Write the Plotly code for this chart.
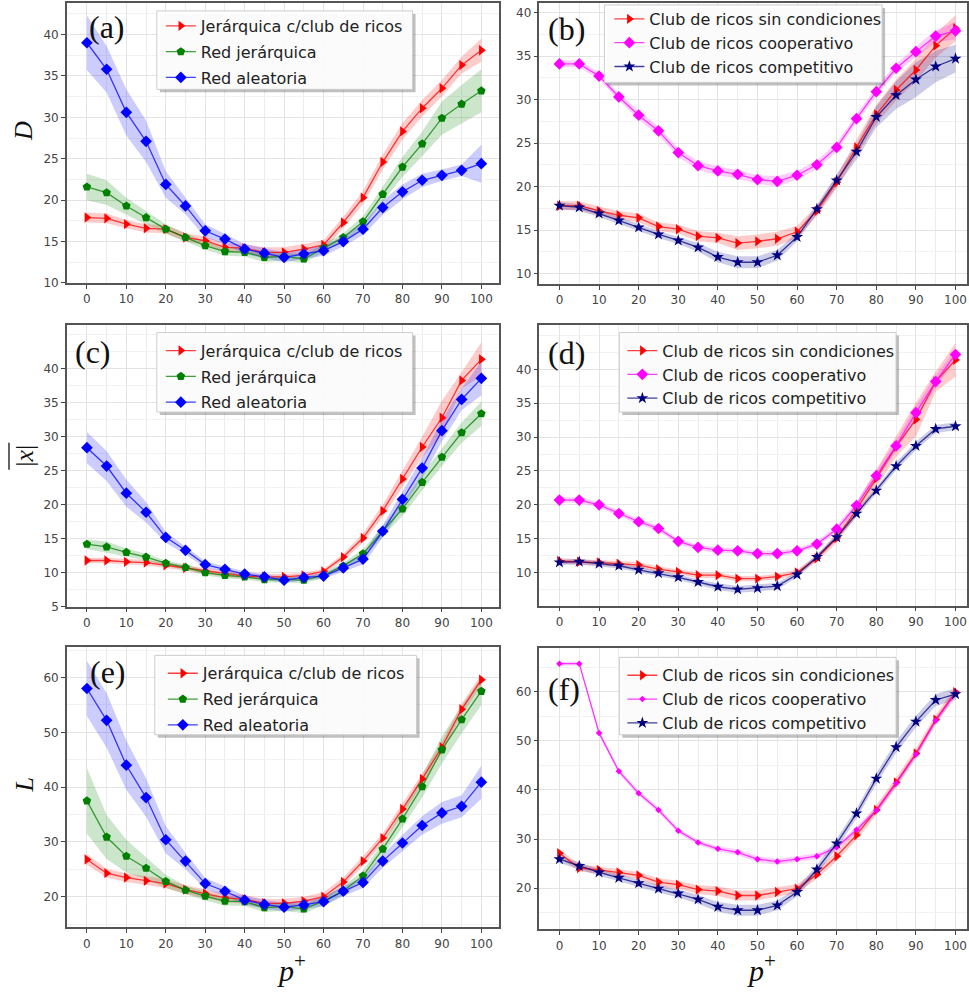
import plotly.graph_objects as go

W, H = 969, 993

p_plus = [0, 5, 10, 15, 20, 25, 30, 35, 40, 45, 50, 55, 60, 65, 70, 75, 80, 85, 90, 95, 100]

# ---------------- panel (a): D ----------------
a_club = [17.9, 17.8, 17.1, 16.6, 16.5, 15.5, 15.1, 14.3, 14.2, 13.7, 13.7, 14.1, 14.6, 17.3, 20.3, 24.6, 28.3, 31.1, 33.5, 36.3, 38.1]
a_club_err = [0.6, 0.6, 0.5, 0.5, 0.5, 0.5, 0.5, 0.5, 0.5, 0.6, 0.6, 0.6, 0.6, 0.7, 0.8, 0.9, 1.0, 1.0, 1.0, 1.0, 1.4]
a_jer = [21.6, 20.9, 19.3, 17.9, 16.5, 15.5, 14.5, 13.8, 13.7, 13.1, 13.2, 12.9, 14.2, 15.5, 17.4, 20.7, 24.0, 26.8, 29.9, 31.6, 33.2]
a_jer_err = [1.6, 1.5, 1.0, 0.8, 0.6, 0.5, 0.5, 0.5, 0.5, 0.6, 0.5, 0.5, 0.5, 0.5, 0.7, 0.9, 1.2, 1.5, 2.0, 2.3, 2.6]
a_ale = [39.0, 35.8, 30.6, 27.1, 21.9, 19.3, 16.3, 15.3, 14.1, 13.6, 13.1, 13.5, 13.9, 15.0, 16.5, 19.1, 21.0, 22.4, 23.0, 23.6, 24.4]
a_ale_err = [3.3, 2.8, 2.8, 2.5, 1.6, 1.0, 0.8, 0.6, 0.6, 0.6, 0.6, 0.6, 0.6, 0.6, 0.7, 0.9, 0.9, 0.8, 0.7, 0.7, 2.3]

# ---------------- panel (b): D ----------------
b_sin = [17.8, 17.8, 17.2, 16.7, 16.4, 15.4, 15.1, 14.3, 14.1, 13.5, 13.7, 14.0, 14.8, 17.2, 20.5, 24.5, 28.3, 31.1, 33.4, 36.2, 38.2]
b_sin_err = [0.5, 0.5, 0.5, 0.5, 0.5, 0.5, 0.5, 0.6, 0.6, 0.8, 0.8, 0.8, 0.7, 0.6, 0.7, 0.9, 1.1, 1.2, 1.3, 1.4, 1.5]
b_coop = [34.1, 34.1, 32.7, 30.3, 28.2, 26.4, 23.9, 22.4, 21.8, 21.4, 20.8, 20.6, 21.3, 22.5, 24.5, 27.8, 30.9, 33.6, 35.5, 37.3, 37.9]
b_coop_err = [0.4, 0.4, 0.4, 0.4, 0.5, 0.5, 0.5, 0.5, 0.5, 0.5, 0.5, 0.6, 0.5, 0.5, 0.5, 0.5, 0.5, 0.5, 0.6, 0.7, 1.0]
b_comp = [17.8, 17.6, 16.9, 16.1, 15.3, 14.5, 13.8, 13.0, 11.9, 11.3, 11.3, 12.1, 14.2, 17.4, 20.7, 24.0, 28.0, 30.5, 32.3, 33.8, 34.7]
b_comp_err = [0.4, 0.4, 0.4, 0.4, 0.4, 0.4, 0.4, 0.5, 0.6, 0.7, 0.7, 0.6, 0.5, 0.5, 0.7, 0.9, 1.2, 1.6, 2.0, 1.8, 1.6]

# ---------------- panel (c): |x| ----------------
c_club = [11.8, 11.8, 11.6, 11.5, 11.1, 10.7, 10.3, 9.8, 9.5, 9.4, 9.4, 9.6, 10.2, 12.3, 15.1, 19.1, 23.8, 28.5, 32.8, 38.3, 41.4]
c_club_err = [0.4, 0.4, 0.4, 0.4, 0.4, 0.4, 0.4, 0.4, 0.4, 0.4, 0.4, 0.4, 0.4, 0.5, 0.7, 0.9, 1.2, 1.5, 2.5, 1.2, 2.5]
c_jer = [14.2, 13.8, 13.0, 12.3, 11.4, 10.8, 10.0, 9.6, 9.4, 9.0, 9.0, 8.9, 9.6, 11.0, 12.8, 16.1, 19.4, 23.3, 27.0, 30.6, 33.4]
c_jer_err = [0.7, 0.8, 0.6, 0.5, 0.4, 0.4, 0.4, 0.4, 0.4, 0.4, 0.4, 0.4, 0.4, 0.5, 0.6, 0.8, 1.0, 1.2, 1.3, 1.5, 1.8]
c_ale = [28.4, 25.7, 21.7, 18.9, 15.2, 13.3, 11.2, 10.5, 9.8, 9.4, 8.9, 9.3, 9.5, 10.7, 12.0, 16.1, 20.8, 25.4, 30.9, 35.5, 38.6]
c_ale_err = [2.3, 2.2, 2.0, 1.5, 0.8, 0.6, 0.5, 0.4, 0.4, 0.4, 0.4, 0.4, 0.4, 0.6, 0.8, 0.9, 1.2, 1.5, 1.6, 1.6, 2.5]

# ---------------- panel (d): |x| ----------------
d_sin = [11.7, 11.6, 11.5, 11.3, 11.1, 10.5, 10.1, 9.6, 9.6, 9.1, 9.1, 9.4, 10.0, 12.1, 15.1, 19.3, 23.9, 28.6, 32.6, 38.2, 41.4]
d_sin_err = [0.4, 0.4, 0.4, 0.4, 0.4, 0.4, 0.4, 0.4, 0.4, 0.4, 0.4, 0.4, 0.4, 0.5, 0.7, 1.0, 1.3, 1.5, 2.5, 1.5, 2.5]
d_coop = [20.7, 20.7, 20.0, 18.7, 17.5, 16.5, 14.6, 13.7, 13.3, 13.2, 12.8, 12.8, 13.2, 14.2, 16.4, 19.9, 24.3, 28.7, 33.6, 38.2, 42.2]
d_coop_err = [0.4, 0.4, 0.4, 0.4, 0.4, 0.4, 0.4, 0.4, 0.4, 0.4, 0.4, 0.4, 0.4, 0.4, 0.5, 0.6, 0.7, 0.8, 1.0, 0.9, 0.8]
d_comp = [11.5, 11.6, 11.3, 11.0, 10.4, 9.9, 9.3, 8.6, 7.9, 7.5, 7.7, 8.0, 9.7, 12.3, 15.2, 18.7, 22.1, 25.7, 28.7, 31.2, 31.6]
d_comp_err = [0.4, 0.4, 0.4, 0.4, 0.4, 0.4, 0.4, 0.4, 0.5, 0.5, 0.5, 0.5, 0.4, 0.4, 0.4, 0.5, 0.5, 0.6, 0.6, 0.6, 0.6]

# ---------------- panel (e): L ----------------
e_club = [26.8, 24.3, 23.5, 22.9, 22.4, 21.3, 20.6, 19.8, 19.5, 18.8, 18.8, 19.2, 20.0, 22.7, 26.5, 30.7, 36.0, 41.5, 47.3, 54.2, 59.6]
e_club_err = [1.0, 0.8, 0.8, 0.8, 0.8, 0.8, 0.8, 0.8, 0.8, 0.8, 0.8, 0.8, 0.8, 0.8, 0.9, 0.9, 1.0, 1.0, 1.0, 1.0, 1.0]
e_jer = [37.5, 30.9, 27.4, 25.2, 22.8, 21.2, 20.1, 19.2, 19.1, 18.0, 18.2, 17.8, 19.2, 21.1, 23.8, 28.7, 34.2, 40.1, 46.8, 52.3, 57.5]
e_jer_err = [6.0, 4.0, 3.0, 2.0, 1.2, 0.8, 0.8, 0.8, 0.8, 0.8, 0.8, 0.8, 0.8, 0.8, 1.0, 1.2, 1.5, 2.0, 2.5, 2.5, 2.5]
e_ale = [58.0, 52.2, 44.0, 38.1, 30.4, 26.5, 22.4, 21.0, 19.4, 18.6, 18.1, 18.5, 19.1, 21.0, 22.6, 26.5, 29.8, 33.0, 35.3, 36.5, 40.9]
e_ale_err = [5.0, 5.0, 4.5, 3.5, 2.5, 1.5, 1.0, 0.9, 0.8, 0.8, 0.8, 0.8, 0.8, 0.9, 1.0, 1.2, 1.5, 1.7, 2.0, 2.0, 3.0]

# ---------------- panel (f): L ----------------
f_sin = [27.1, 24.1, 23.7, 23.2, 22.6, 21.2, 20.7, 19.7, 19.4, 18.5, 18.5, 19.2, 19.9, 22.8, 26.5, 30.8, 35.9, 41.5, 47.4, 54.3, 59.9]
f_sin_err = [0.8, 0.7, 0.7, 0.7, 0.7, 0.8, 0.8, 0.9, 1.0, 1.0, 1.0, 1.0, 0.9, 0.9, 1.0, 1.0, 1.0, 1.0, 1.0, 1.0, 1.0]
f_coop = [65.7, 65.7, 51.6, 43.8, 39.3, 35.9, 31.7, 29.3, 28.0, 27.3, 25.9, 25.4, 25.9, 26.5, 28.3, 31.9, 35.8, 41.3, 47.2, 54.1, 59.7]
f_coop_err = [0.4, 0.4, 0.5, 0.5, 0.5, 0.5, 0.5, 0.5, 0.5, 0.6, 0.6, 0.6, 0.6, 0.6, 0.6, 0.6, 0.6, 0.6, 0.6, 0.6, 0.6]
f_comp = [25.9, 24.5, 23.2, 22.1, 21.0, 19.9, 18.9, 17.7, 16.2, 15.5, 15.5, 16.5, 19.2, 23.8, 29.1, 35.2, 42.3, 48.7, 53.9, 58.3, 59.5]
f_comp_err = [0.8, 0.7, 0.7, 0.7, 0.7, 0.8, 0.8, 0.9, 1.0, 1.1, 1.1, 1.0, 0.9, 0.9, 1.0, 1.0, 1.1, 1.2, 1.2, 1.2, 1.2]

names_left = ["Jerárquica c/club de ricos", "Red jerárquica", "Red aleatoria"]
names_right = ["Club de ricos sin condiciones", "Club de ricos cooperativo", "Club de ricos competitivo"]
panel_labels = ["(a)", "(b)", "(c)", "(d)", "(e)", "(f)"]
y_ticks = [[10, 15, 20, 25, 30, 35, 40], [10, 15, 20, 25, 30, 35, 40],
           [5, 10, 15, 20, 25, 30, 35, 40], [10, 15, 20, 25, 30, 35, 40],
           [20, 30, 40, 50, 60], [20, 30, 40, 50, 60]]
x_ticks = [0, 10, 20, 30, 40, 50, 60, 70, 80, 90, 100]

RED, GREEN, BLUE, MAG, NAVY = (255, 0, 0), (0, 128, 0), (0, 0, 255), (255, 0, 255), (0, 0, 128)


def rgba(c, a):
    return f"rgba({c[0]},{c[1]},{c[2]},{a})"


def px(x):
    return x / W


def py(y):
    return 1 - y / H


LX = [px(67), px(500)]
RX = [px(540), px(968)]
doms = [
    (LX, [py(285), py(3)]),
    (RX, [py(286), py(3)]),
    (LX, [py(611), py(327)]),
    (RX, [py(610), py(327)]),
    (LX, [py(934), py(652)]),
    (RX, [py(936), py(653)]),
]
xr_left = [-5.06, 104.6]
xr_right = [-5.05, 102.9]
yranges = [[10, 43.8], [8.8, 41.1], [5, 46.5], [5.1, 46.6], [14.4, 65.5], [11.6, 68.8]]
yminor = [2.5, 2.5, 2.5, 2.5, 5, 5]

panels = [
    [(a_club, a_club_err, RED, "triangle-right", 9), (a_jer, a_jer_err, GREEN, "pentagon", 9), (a_ale, a_ale_err, BLUE, "diamond", 9)],
    [(b_sin, b_sin_err, RED, "triangle-right", 9), (b_coop, b_coop_err, MAG, "diamond", 9), (b_comp, b_comp_err, NAVY, "star", 9)],
    [(c_club, c_club_err, RED, "triangle-right", 9), (c_jer, c_jer_err, GREEN, "pentagon", 9), (c_ale, c_ale_err, BLUE, "diamond", 9)],
    [(d_sin, d_sin_err, RED, "triangle-right", 9), (d_coop, d_coop_err, MAG, "diamond", 9), (d_comp, d_comp_err, NAVY, "star", 9)],
    [(e_club, e_club_err, RED, "triangle-right", 9), (e_jer, e_jer_err, GREEN, "pentagon", 9), (e_ale, e_ale_err, BLUE, "diamond", 9)],
    [(f_sin, f_sin_err, RED, "triangle-right", 9), (f_coop, f_coop_err, MAG, "diamond", 5), (f_comp, f_comp_err, NAVY, "star", 9)],
]

fig = go.Figure()
layout = {}
tick_font = dict(family="DejaVu Sans", size=12, color="#444444")

for i, series in enumerate(panels):
    k = i + 1
    xa = "x" if k == 1 else f"x{k}"
    ya = "y" if k == 1 else f"y{k}"
    leg = "legend" if k == 1 else f"legend{k}"
    names = names_left if i % 2 == 0 else names_right
    for vals, err, col, sym, ms in series:
        up = [v + e for v, e in zip(vals, err)]
        lo = [v - e for v, e in zip(vals, err)]
        fig.add_trace(go.Scatter(
            x=p_plus + p_plus[::-1], y=up + lo[::-1], fill="toself",
            fillcolor=rgba(col, 0.2), line=dict(width=0), mode="lines",
            hoverinfo="skip", showlegend=False, xaxis=xa, yaxis=ya))
    for j, ((vals, err, col, sym, ms), name) in enumerate(zip(series, names)):
        fig.add_trace(go.Scatter(
            x=p_plus, y=vals, mode="lines+markers", name=name,
            line=dict(color=rgba(col, 0.75), width=1.3),
            marker=dict(symbol=sym, size=ms, color=rgba(col, 1), line=dict(width=0)),
            legend=leg, legendgroup=f"g{k}_{j}", xaxis=xa, yaxis=ya))

    xd, yd = doms[i]
    axkey = "xaxis" if k == 1 else f"xaxis{k}"
    aykey = "yaxis" if k == 1 else f"yaxis{k}"
    layout[axkey] = dict(
        domain=xd, range=xr_left if i % 2 == 0 else xr_right, anchor=ya,
        tickmode="array", tickvals=x_ticks, ticks="outside", ticklen=4,
        tickcolor="#444444", tickfont=tick_font,
        showline=True, linecolor="#555555", linewidth=1.5, mirror=True,
        showgrid=True, gridcolor="#e3e3e3", gridwidth=1, zeroline=False,
        minor=dict(dtick=5, tick0=0, showgrid=True, gridcolor="#ececec", ticks=""),
    )
    layout[aykey] = dict(
        domain=yd, range=yranges[i], anchor=xa,
        tickmode="array", tickvals=y_ticks[i], ticks="outside", ticklen=4,
        tickcolor="#444444", tickfont=tick_font,
        showline=True, linecolor="#555555", linewidth=1.5, mirror=True,
        showgrid=True, gridcolor="#e3e3e3", gridwidth=1, zeroline=False,
        minor=dict(dtick=yminor[i], tick0=0, showgrid=True, gridcolor="#f2f2f2", ticks=""),
    )

# legend frame boxes (left, top, right, bottom in pixels) and legend text anchor (x, y, row gap)
legend_frame = [(157, 11, 413, 90), (605, 5, 883, 83), (157, 335, 413, 415),
                (620, 335, 897, 415), (155, 660, 417, 740), (620, 662, 897, 740)]
legend_anchor = [(161, 9, 2), (610, 2, 0), (161, 336, 2), (623, 336, 0), (163, 661, 2), (623, 663, 0)]
shapes = []
for i, ((fx0, fy0, fx1, fy1), (lx, ly, gap)) in enumerate(zip(legend_frame, legend_anchor)):
    key = "legend" if i == 0 else f"legend{i + 1}"
    layout[key] = dict(
        x=px(lx), y=py(ly), xanchor="left", yanchor="top",
        xref="paper", yref="paper",
        bgcolor="rgba(0,0,0,0)", borderwidth=0,
        font=dict(family="DejaVu Sans", size=16, color="#222222"),
        tracegroupgap=gap, itemwidth=30,
    )
    shapes.append(dict(type="rect", xref="paper", yref="paper", layer="above",
                       x0=px(fx0 + 3), x1=px(fx1 + 3), y0=py(fy1 + 3), y1=py(fy0 + 3),
                       fillcolor="rgba(0,0,0,0.25)", line=dict(width=0)))
    shapes.append(dict(type="rect", xref="paper", yref="paper", layer="above",
                       x0=px(fx0), x1=px(fx1), y0=py(fy1), y1=py(fy0),
                       fillcolor="rgba(255,255,255,0.93)", line=dict(color="#cccccc", width=1)))

annotations = []
label_pos = [(107, 27), (567, 29), (93, 355), (567, 356), (108, 677), (565, 694)]
for txt, (lx, ly) in zip(panel_labels, label_pos):
    annotations.append(dict(
        text=txt, x=px(lx), y=py(ly), xref="paper", yref="paper",
        xanchor="center", yanchor="middle", showarrow=False,
        font=dict(family="Liberation Serif", size=32, color="#111111")))

ylab = [("<i>D</i>", 23, 132), ("|<i>x</i>|", 25, 459), ("<i>L</i>", 24, 790)]
for txt, lx, ly in ylab:
    annotations.append(dict(
        text=txt, x=px(lx), y=py(ly), xref="paper", yref="paper",
        xanchor="center", yanchor="middle", showarrow=False, textangle=-90,
        font=dict(family="Liberation Serif", size=26, color="#111111")))

for lx in (292, 762):
    annotations.append(dict(
        text="<i>p</i><sup>+</sup>", x=px(lx), y=py(975), xref="paper", yref="paper",
        xanchor="center", yanchor="middle", showarrow=False,
        font=dict(family="Liberation Serif", size=30, color="#111111")))

shapes.append(dict(type="line", xref="paper", yref="paper",
                   x0=px(9), x1=px(9), y0=py(446), y1=py(473),
                   line=dict(color="#111111", width=1.3)))

fig.update_layout(
    width=W, height=H, margin=dict(l=0, r=0, t=0, b=0),
    paper_bgcolor="white", plot_bgcolor="white",
    annotations=annotations, shapes=shapes, **layout,
)

fig.write_html("out.html", config={"displayModeBar": False},
               post_script="document.body.style.margin='0';document.body.style.overflow='hidden';")
